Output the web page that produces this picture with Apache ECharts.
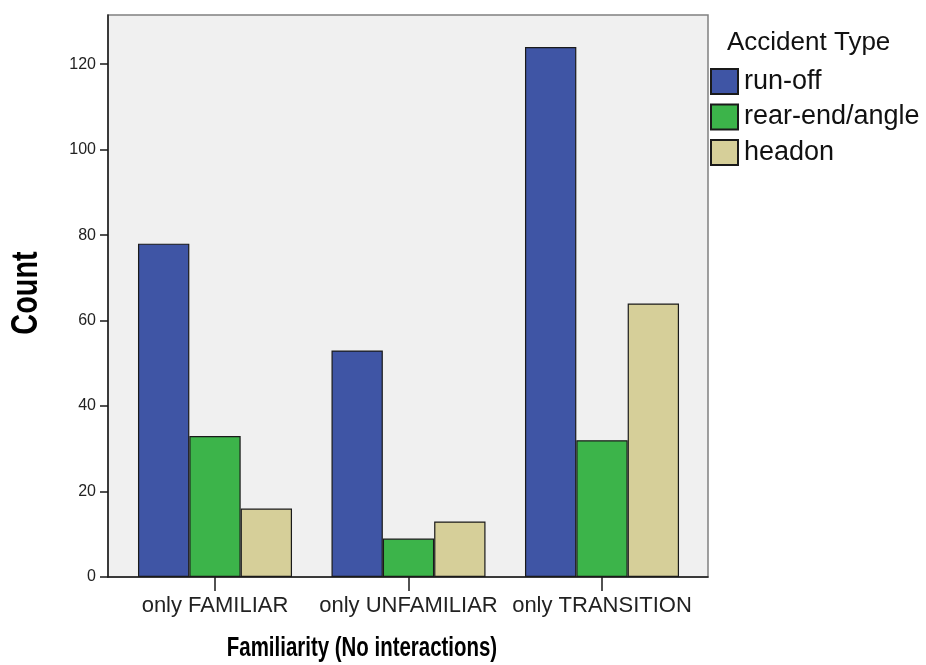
<!DOCTYPE html>
<html>
<head>
<meta charset="utf-8">
<script src="https://cdn.jsdelivr.net/npm/echarts@6/dist/echarts.min.js"></script>
<style>html,body{margin:0;padding:0;background:#fff}#c{width:926px;height:665px}</style>
</head>
<body>
<div id="c"></div>
<script>
const categories = ['only FAMILIAR', 'only UNFAMILIAR', 'only TRANSITION'];
const runOff = [78, 53, 124];
const rearEndAngle = [33, 9, 32];
const headon = [16, 13, 64];
const yTicks = [0, 20, 40, 60, 80, 100, 120];
const yMax = 131.5;

const chart = echarts.init(document.getElementById('c'), null, {renderer: 'canvas'});
const barStyle = (c) => ({color: c, borderColor: '#1a1a1a', borderWidth: 1.2});
const font = 'Liberation Sans, Arial';
chart.setOption({
  animation: false,
  backgroundColor: '#ffffff',
  grid: [
    {left: 108, top: 15, right: 218, bottom: 88, show: true, backgroundColor: '#f0f0f0', borderColor: '#808080', borderWidth: 1.5},
    {left: 118.25, top: 15, right: 227.25, bottom: 88, show: false}
  ],
  xAxis: [
    {
      type: 'value', gridIndex: 0, min: 0, max: 1,
      axisLine: {show: true, lineStyle: {color: '#1a1a1a', width: 1.5}},
      axisTick: {show: false}, axisLabel: {show: false}, splitLine: {show: false}
    },
    {
      type: 'category', gridIndex: 1, data: categories,
      axisLine: {show: false},
      axisTick: {show: true, interval: 0, alignWithLabel: true, length: 14, lineStyle: {color: '#1a1a1a', width: 1.5}},
      axisLabel: {interval: 0, hideOverlap: false, color: '#222', fontSize: 22, fontFamily: font, margin: 18}
    }
  ],
  yAxis: [
    {
      type: 'value', gridIndex: 0, min: 0, max: yMax,
      splitLine: {show: false},
      axisLine: {show: true, lineStyle: {color: '#1a1a1a', width: 1.5}},
      axisTick: {show: true, length: 8, customValues: yTicks, lineStyle: {color: '#1a1a1a', width: 1.5}},
      axisLabel: {customValues: yTicks, color: '#222', fontSize: 16, fontFamily: font, margin: 12}
    },
    {type: 'value', gridIndex: 1, min: 0, max: yMax, show: false}
  ],
  legend: {
    orient: 'vertical', left: 710, top: 68, padding: 0,
    itemWidth: 27, itemHeight: 25, itemGap: 8.5,
    icon: 'rect',
    textStyle: {fontSize: 27, color: '#111', fontFamily: font, lineHeight: 25, padding: [0, 0, 0, 1]},
    data: ['run-off', 'rear-end/angle', 'headon']
  },
  graphic: [
    {type: 'text', left: 727, top: 30, style: {text: 'Accident Type', fontSize: 26, fill: '#111', fontFamily: font}},
    {type: 'text', x: 27, y: 293, rotation: Math.PI / 2, scaleX: 0.78, style: {text: 'Count', fontSize: 37, fontWeight: 'bold', fill: '#000', fontFamily: font, align: 'center', verticalAlign: 'middle'}},
    {type: 'text', x: 362, y: 648, scaleX: 0.73, style: {text: 'Familiarity (No interactions)', fontSize: 28, fontWeight: 'bold', fill: '#000', fontFamily: font, align: 'center', verticalAlign: 'middle'}}
  ],
  series: [
    {name: 'run-off', type: 'bar', xAxisIndex: 1, yAxisIndex: 1, data: runOff, itemStyle: barStyle('#3f55a5'), barGap: '0%', barCategoryGap: '20.4%'},
    {name: 'rear-end/angle', type: 'bar', xAxisIndex: 1, yAxisIndex: 1, data: rearEndAngle, itemStyle: barStyle('#3cb44a')},
    {name: 'headon', type: 'bar', xAxisIndex: 1, yAxisIndex: 1, data: headon, itemStyle: barStyle('#d6cf99')}
  ]
});
</script>
</body>
</html>
